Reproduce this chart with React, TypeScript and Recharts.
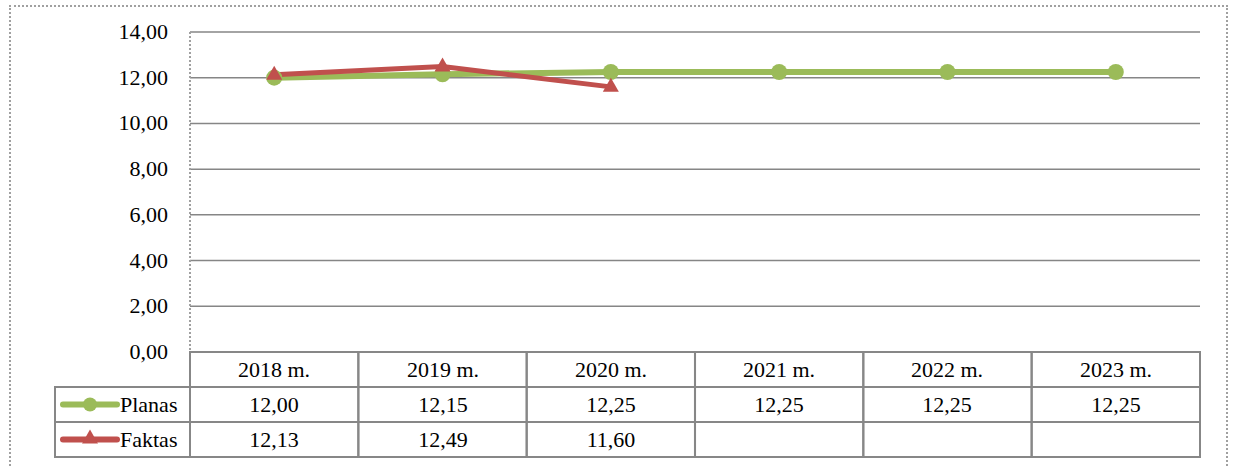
import React from "react"
import { LineChart, Line, XAxis, YAxis, CartesianGrid } from "recharts"

const years = ["2018 m.", "2019 m.", "2020 m.", "2021 m.", "2022 m.", "2023 m."]
const planas = [12.0, 12.15, 12.25, 12.25, 12.25, 12.25]
const faktas: (number | null)[] = [12.13, 12.49, 11.6, null, null, null]
const yTicks = [0, 2, 4, 6, 8, 10, 12, 14]

const GREEN = "#9BBB59"
const RED = "#C0504D"
const BORDER = "#878787"
const FONT = "Liberation Serif"

const data = years.map((year, i) => ({ year, planas: planas[i], faktas: faktas[i] }))

const fmt = (v: number | null) => (v == null ? "" : v.toFixed(2).replace(".", ","))

const COL_W = 168.4
const ROW_H = 35

// whole-pixel text positions so the serif face renders crisply
function Txt({ x, y, anchor = "middle", children }: any) {
  return (
    <text
      x={Math.round(x)}
      y={Math.round(y)}
      textAnchor={anchor}
      fontFamily={FONT}
      fontSize={22}
      fill="#000"
      style={{ fontFamily: FONT }}
    >
      {children}
    </text>
  )
}

function YTick({ x, y, payload }: any) {
  return <Txt x={x} y={y + 7} anchor="end">{fmt(payload.value)}</Txt>
}

function TriangleDot({ cx, cy }: any) {
  if (cx == null || cy == null) return null
  return <path d={`M${cx},${cy - 9} L${cx + 8},${cy + 5} L${cx - 8},${cy + 5} Z`} fill={RED} />
}

function TableTick({ x, y, index, payload }: any) {
  const left = x - COL_W / 2
  const cells = [payload.value, fmt(planas[index]), fmt(faktas[index])]
  const legendLeft = left - 135
  return (
    <g>
      {cells.map((c, r) => (
        <g key={r}>
          <rect x={left} y={y + r * ROW_H} width={COL_W} height={ROW_H} fill="none" stroke={BORDER} strokeWidth={2} />
          <Txt x={x} y={y + r * ROW_H + 25}>{c}</Txt>
        </g>
      ))}
      {index === 0 && (
        <g>
          <rect x={legendLeft} y={y + ROW_H} width={135} height={ROW_H} fill="none" stroke={BORDER} strokeWidth={2} />
          <rect x={legendLeft} y={y + 2 * ROW_H} width={135} height={ROW_H} fill="none" stroke={BORDER} strokeWidth={2} />
          <line x1={legendLeft + 8} x2={legendLeft + 62} y1={y + ROW_H * 1.5} y2={y + ROW_H * 1.5} stroke={GREEN} strokeWidth={6} strokeLinecap="round" />
          <circle cx={legendLeft + 35} cy={y + ROW_H * 1.5} r={7} fill={GREEN} />
          <Txt x={legendLeft + 65} y={y + ROW_H + 25} anchor="start">Planas</Txt>
          <line x1={legendLeft + 8} x2={legendLeft + 62} y1={y + ROW_H * 2.5} y2={y + ROW_H * 2.5} stroke={RED} strokeWidth={6} strokeLinecap="round" />
          <TriangleDot cx={legendLeft + 35} cy={y + ROW_H * 2.5 - 1} />
          <Txt x={legendLeft + 65} y={y + 2 * ROW_H + 25} anchor="start">Faktas</Txt>
        </g>
      )}
    </g>
  )
}

export default function App() {
  return (
    <div style={{ position: "absolute", left: 0, top: 0, width: 1233, height: 468, background: "#fff", overflow: "hidden" }}>
      <div style={{ position: "absolute", left: 9, top: 5, width: 1219, height: 480, border: "2px dotted #a0a0a0", boxSizing: "border-box" }} />
      <LineChart width={1233} height={468} data={data} margin={{ top: 32, right: 33, bottom: 12, left: 130 }}>
        <CartesianGrid vertical={false} stroke="#868686" strokeWidth={1.5} />
        <XAxis
          dataKey="year"
          height={104}
          padding={{ left: COL_W / 2, right: COL_W / 2 }}
          axisLine={false}
          tickLine={false}
          tickSize={0}
          tickMargin={0}
          interval={0}
          tick={<TableTick />}
        />
        <YAxis
          width={60}
          domain={[0, 14]}
          ticks={yTicks}
          tickLine={false}
          tickSize={0}
          tickMargin={22}
          axisLine={{ stroke: "#a0a0a0", strokeDasharray: "2 2", strokeWidth: 2 }}
          tick={<YTick />}
        />
        <YAxis
          yAxisId="r"
          orientation="right"
          width={0}
          domain={[0, 14]}
          tick={false}
          tickLine={false}
          axisLine={{ stroke: "#a0a0a0", strokeDasharray: "2 2", strokeWidth: 2 }}
        />
        <Line
          dataKey="planas"
          stroke={GREEN}
          strokeWidth={6}
          dot={{ r: 8, fill: GREEN, stroke: "none" }}
          activeDot={false}
          isAnimationActive={false}
        />
        <Line
          dataKey="faktas"
          stroke={RED}
          strokeWidth={5}
          dot={<TriangleDot />}
          activeDot={false}
          connectNulls={false}
          isAnimationActive={false}
        />
      </LineChart>
    </div>
  )
}
